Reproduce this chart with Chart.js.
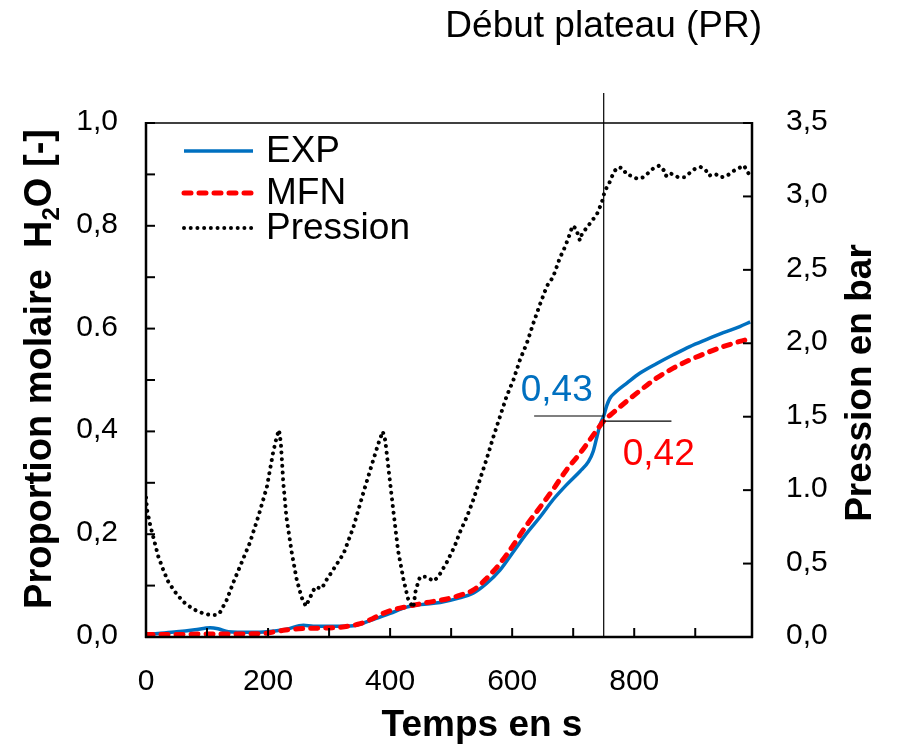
<!DOCTYPE html>
<html>
<head>
<meta charset="utf-8">
<script src="https://cdn.jsdelivr.net/npm/chart.js@4.4.1/dist/chart.umd.min.js"></script>
<style>
  html, body { margin: 0; padding: 0; background: #fff; }
</style>
</head>
<body>
<canvas id="chart" width="897" height="744"></canvas>
<script>
// mesures : temps (s), proportion molaire H2O, pression (bar)
const timeExp = [0, 20, 50, 80, 105, 118, 135, 170, 198, 230, 258, 274, 310, 340, 372, 400, 427, 450, 482, 514,
  536, 558, 580, 602, 624, 646, 667, 689, 711, 725, 733, 739, 744, 750, 755, 760, 771, 788, 809, 837,
  864, 891, 919, 946, 973, 990];
const exp = [0.005, 0.007, 0.010, 0.014, 0.018, 0.016, 0.010, 0.009, 0.010, 0.015, 0.023, 0.021, 0.021, 0.022, 0.034, 0.046, 0.058, 0.063, 0.067, 0.076,
  0.085, 0.104, 0.130, 0.166, 0.202, 0.234, 0.267, 0.296, 0.322, 0.341, 0.362, 0.390, 0.413, 0.430, 0.450, 0.464, 0.478, 0.494, 0.513, 0.532,
  0.549, 0.565, 0.579, 0.592, 0.604, 0.613];

const timeMfn = [0, 50, 104, 150, 192, 225, 250, 274, 318, 351, 372, 383, 405, 427, 460, 493, 514, 536, 558, 580,
  602, 624, 646, 667, 689, 711, 733, 750, 766, 788, 809, 837, 864, 891, 919, 946, 973, 992];
const mfn = [0.005, 0.005, 0.006, 0.006, 0.007, 0.013, 0.016, 0.017, 0.019, 0.026, 0.036, 0.043, 0.053, 0.059, 0.067, 0.074, 0.081, 0.091, 0.114, 0.143,
  0.179, 0.218, 0.253, 0.287, 0.325, 0.357, 0.393, 0.420, 0.437, 0.459, 0.479, 0.504, 0.523, 0.539, 0.553, 0.565, 0.575, 0.581];

const timePression = [0, 2, 7, 12, 20, 28, 36, 47, 61, 77, 94, 105, 116, 121, 132, 143, 154, 170, 184, 198,
  208, 214, 218, 221, 225, 230, 239, 247, 255, 262, 269, 277, 288, 296, 307, 324, 340, 356, 372, 381,
  388, 392, 397, 405, 413, 422, 430, 438, 442, 449, 460, 471, 479, 493, 506, 514, 526, 536, 547, 558,
  569, 580, 591, 602, 613, 624, 635, 646, 657, 667, 678, 687, 695, 699, 705, 707, 711, 714, 719, 730,
  739, 747, 752, 758, 762, 767, 774, 782, 787, 796, 805, 815, 823, 831, 841, 848, 852, 856, 864, 872,
  882, 891, 900, 909, 917, 923, 927, 934, 942, 952, 961, 970, 980, 985, 992];
const pression = [0.95, 0.86, 0.76, 0.68, 0.55, 0.46, 0.38, 0.31, 0.24, 0.19, 0.16, 0.15, 0.15, 0.165, 0.25, 0.37, 0.48, 0.64, 0.82, 1.02,
  1.25, 1.36, 1.41, 1.32, 1.05, 0.82, 0.57, 0.39, 0.27, 0.21, 0.27, 0.34, 0.33, 0.39, 0.46, 0.57, 0.75, 0.98, 1.20, 1.32,
  1.40, 1.34, 1.16, 0.87, 0.59, 0.39, 0.25, 0.20, 0.32, 0.41, 0.41, 0.38, 0.41, 0.51, 0.62, 0.71, 0.82, 0.93, 1.07, 1.21,
  1.36, 1.50, 1.64, 1.75, 1.89, 2.00, 2.14, 2.27, 2.39, 2.45, 2.58, 2.66, 2.75, 2.80, 2.78, 2.75, 2.70, 2.74, 2.77, 2.83,
  2.88, 2.96, 3.04, 3.08, 3.12, 3.17, 3.20, 3.19, 3.15, 3.14, 3.12, 3.13, 3.16, 3.19, 3.21, 3.18, 3.14, 3.16, 3.15, 3.13,
  3.13, 3.16, 3.19, 3.20, 3.18, 3.14, 3.15, 3.15, 3.13, 3.14, 3.17, 3.19, 3.21, 3.17, 3.13];

// graduations de l'axe des temps (toutes les 100 s, libellé toutes les 200 s)
const xTickMarks = [0, 100, 200, 300, 400, 500, 600, 700, 800, 900];
const xTicks = [0, 200, 400, 600, 800];
const xTickLabels = ["0", "200", "400", "600", "800"];
const leftTickLabels = ["0,0", "0,2", "0,4", "0.6", "0,8", "1,0"];
const rightTickLabels = ["0,0", "0,5", "1.0", "1,5", "2,0", "2,5", "3,0", "3,5"];

// début du plateau de pression et valeurs lues à cet instant
const plateauTime = 750;
const expAtPlateau = 0.43;
const mfnAtPlateau = 0.42;
const expLabel = "0,43";
const mfnLabel = "0,42";

const FONT = "'Liberation Sans', Arial, sans-serif";
const BLUE = "#0070C0";
const RED = "#FF0000";

function toPoints(xs, ys) {
  return xs.map((x, i) => ({ x: x, y: ys[i] }));
}

function line(ctx, x1, y1, x2, y2) {
  ctx.beginPath();
  ctx.moveTo(x1, y1);
  ctx.lineTo(x2, y2);
  ctx.stroke();
}

const extras = {
  id: "extras",
  afterDatasetsDraw(chart) {
    const ctx = chart.ctx;
    const area = chart.chartArea;
    const sx = chart.scales.x;
    const sy = chart.scales.y;
    const sy2 = chart.scales.y2;
    ctx.save();

    // cadre
    ctx.strokeStyle = "#000";
    ctx.lineWidth = 1.5;
    line(ctx, area.left, area.top, area.right, area.top);
    ctx.lineWidth = 2.5;
    line(ctx, area.left, area.top - 1, area.left, area.bottom + 1);
    line(ctx, area.right, area.top - 1, area.right, area.bottom + 1);
    line(ctx, area.left - 1, area.bottom, area.right + 1, area.bottom);

    // graduations vers l'intérieur + libellés
    ctx.lineWidth = 2;
    const tl = 9;
    ctx.fillStyle = "#000";
    ctx.font = "30px " + FONT;
    ctx.textBaseline = "alphabetic";

    ctx.textAlign = "right";
    sy.ticks.forEach(t => {
      const y = sy.getPixelForValue(t.value);
      line(ctx, area.left, y, area.left + tl, y);
      const k = Math.round(t.value * 10);
      if (k % 2 === 0) ctx.fillText(leftTickLabels[k / 2], 118, y + 7);
    });

    ctx.textAlign = "left";
    sy2.ticks.forEach((t, i) => {
      const y = sy2.getPixelForValue(t.value);
      line(ctx, area.right - tl, y, area.right, y);
      ctx.fillText(rightTickLabels[i], 786, y + 7);
    });

    ctx.textAlign = "center";
    sx.ticks.forEach(t => {
      const px = sx.getPixelForValue(t.value);
      line(ctx, px, area.bottom, px, area.bottom - tl);
      const i = xTicks.indexOf(t.value);
      if (i >= 0) ctx.fillText(xTickLabels[i], px, 690);
    });

    // début plateau
    const xp = sx.getPixelForValue(plateauTime);
    ctx.lineWidth = 1.2;
    line(ctx, xp, 93, xp, area.bottom);
    const yExp = sy.getPixelForValue(expAtPlateau);
    const yMfn = sy.getPixelForValue(mfnAtPlateau);
    line(ctx, sx.getPixelForValue(636), yExp, xp, yExp);
    line(ctx, xp, yMfn, sx.getPixelForValue(861), yMfn);

    ctx.font = "37px " + FONT;
    ctx.textAlign = "center";
    ctx.fillStyle = BLUE;
    ctx.fillText(expLabel, xp - 47, yExp - 15);
    ctx.fillStyle = RED;
    ctx.fillText(mfnLabel, xp + 55, yMfn + 44);

    ctx.fillStyle = "#000";
    ctx.fillText("Début plateau (PR)", xp, 37);

    // légende
    const rows = [151, 193, 228];
    chart.data.datasets.forEach((ds, i) => {
      ctx.save();
      ctx.strokeStyle = ds.borderColor;
      ctx.lineWidth = ds.borderWidth;
      ctx.lineCap = ds.borderCapStyle || "butt";
      ctx.setLineDash(ds.borderDash || []);
      line(ctx, 184, rows[i], 253, rows[i]);
      ctx.restore();
      ctx.fillStyle = "#000";
      ctx.font = "37px " + FONT;
      ctx.textAlign = "left";
      ctx.textBaseline = "middle";
      ctx.fillText(ds.label, 266, rows[i] + 1);
    });

    // titres des axes
    ctx.fillStyle = "#000";
    ctx.textAlign = "center";
    ctx.textBaseline = "alphabetic";
    ctx.font = "bold 37px " + FONT;
    ctx.fillText("Temps en s", 482, 736);

    ctx.save();
    ctx.translate(871, 383);
    ctx.rotate(-Math.PI / 2);
    ctx.fillText("Pression en bar", 0, 0);
    ctx.restore();

    // Proportion molaire H2O [-] avec indice
    ctx.save();
    ctx.translate(51, 369);
    ctx.rotate(-Math.PI / 2);
    ctx.textAlign = "left";
    const big = "bold 38px " + FONT;
    const small = "bold 24px " + FONT;
    const parts = [["Proportion molaire  H", big, 0], ["2", small, 8], ["O [-]", big, 0]];
    let total = 0;
    parts.forEach(p => { ctx.font = p[1]; total += ctx.measureText(p[0]).width; });
    let cursor = -total / 2;
    parts.forEach(p => {
      ctx.font = p[1];
      ctx.fillText(p[0], cursor, p[2]);
      cursor += ctx.measureText(p[0]).width;
    });
    ctx.restore();

    ctx.restore();
  }
};

const hiddenTicks = { display: false, autoSkip: false };

new Chart(document.getElementById("chart"), {
  type: "line",
  data: {
    datasets: [
      {
        label: "EXP",
        data: toPoints(timeExp, exp),
        borderColor: BLUE,
        borderWidth: 3.5,
        pointRadius: 0,
        cubicInterpolationMode: "monotone",
        yAxisID: "y",
        order: 2
      },
      {
        label: "MFN",
        data: toPoints(timeMfn, mfn),
        borderColor: RED,
        borderWidth: 5,
        borderDash: [7, 8],
        borderCapStyle: "round",
        pointRadius: 0,
        cubicInterpolationMode: "monotone",
        yAxisID: "y",
        order: 1
      },
      {
        label: "Pression",
        data: toPoints(timePression, pression),
        borderColor: "#000",
        borderWidth: 4,
        borderDash: [0.01, 6.7],
        borderCapStyle: "round",
        pointRadius: 0,
        tension: 0,
        yAxisID: "y2",
        order: 0
      }
    ]
  },
  options: {
    responsive: false,
    animation: false,
    events: [],
    layout: { padding: { top: 123, left: 0, right: 0, bottom: 0 } },
    plugins: { legend: { display: false }, tooltip: { enabled: false } },
    scales: {
      x: {
        type: "linear",
        min: 0,
        max: 993,
        grid: { display: false, drawTicks: false },
        border: { display: false },
        ticks: hiddenTicks,
        afterBuildTicks: s => { s.ticks = xTickMarks.map(v => ({ value: v })); },
        afterFit: s => { s.height = 107; }
      },
      y: {
        position: "left",
        min: 0,
        max: 1,
        grid: { display: false, drawTicks: false },
        border: { display: false },
        ticks: Object.assign({ stepSize: 0.1 }, hiddenTicks),
        afterFit: s => { s.width = 146; }
      },
      y2: {
        position: "right",
        min: 0,
        max: 3.5,
        grid: { display: false, drawTicks: false },
        border: { display: false },
        ticks: Object.assign({ stepSize: 0.5 }, hiddenTicks),
        afterFit: s => { s.width = 145; }
      }
    }
  },
  plugins: [extras]
});
</script>
</body>
</html>
